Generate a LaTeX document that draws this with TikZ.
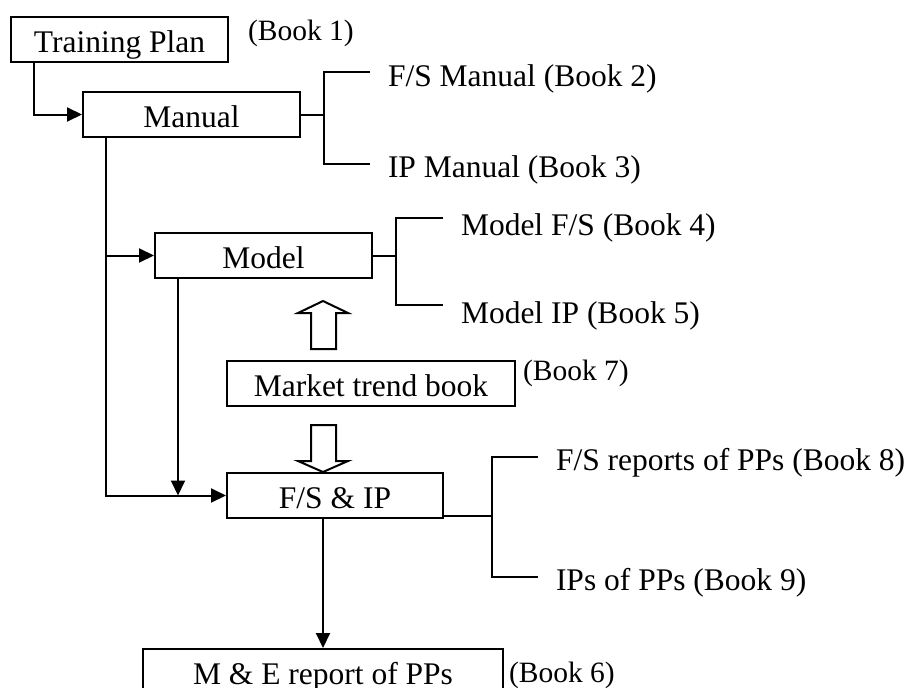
\documentclass[tikz,border=0pt]{standalone}
\usepackage{fontspec}
\setmainfont{Liberation Serif}
\usetikzlibrary{arrows.meta}
\begin{document}
\begin{tikzpicture}[x=1pt,y=-1pt,
  line width=2pt,
  box/.style={draw, line width=2pt, inner sep=0pt, minimum height=45pt,
    text height=25.6pt, text depth=0pt, font=\fontsize{31.5}{36}\selectfont},
  lbl/.style={anchor=base west, inner sep=0pt, font=\fontsize{31.5}{36}\selectfont},
  booklbl/.style={anchor=base west, inner sep=0pt, font=\fontsize{29.5}{34}\selectfont},
  conn/.style={line width=2pt},
  arr/.style={conn, -{Triangle[length=15pt,width=14pt]}},
  hollow/.style={draw, line width=2pt, fill=white, line join=miter}]
\useasboundingbox (0,0) rectangle (911,688);
\clip (0,0) rectangle (911,688);

% boxes
\node[box, minimum width=217pt] (tp)   at (119.5,39.5)  {Training Plan};
\node[box, minimum width=217pt] (man)  at (191.5,114.5) {Manual};
\node[box, minimum width=217pt] (mod)  at (263.5,255.5) {Model};
\node[box, minimum width=288pt] (mkt)  at (371,383.5)   {Market trend book};
\node[box, minimum width=216pt] (fsip) at (335,495.5)   {F/S \& IP};
\node[box, minimum width=360pt] (me)   at (323,671.5)   {M \& E report of PPs};

% book labels
\node[booklbl] (b1) at (247,40)  {(Book 1)};
\node[lbl]     (b2) at (387,86)  {F/S Manual (Book 2)};
\node[lbl]     (b3) at (387,177) {IP Manual (Book 3)};
\node[lbl]     (b4) at (460,235) {Model F/S (Book 4)};
\node[lbl]     (b5) at (460,323) {Model IP (Book 5)};
\node[booklbl] (b7) at (522,380) {(Book 7)};
\node[lbl]     (b8) at (555,470) {F/S reports of PPs (Book 8)};
\node[lbl]     (b9) at (555,590) {IPs of PPs (Book 9)};
\node[booklbl] (b6) at (508,682) {(Book 6)};

% flow arrows
\draw[arr] ([xshift=24pt]tp.south west) |- (man.west);
\draw[arr] ([xshift=24pt]man.south west) |- (fsip.west);
\draw[arr] ([xshift=24pt]man.south west |- mod.west) -- (mod.west);
\draw[arr] ([xshift=24pt]mod.south west) -- ([xshift=24pt]mod.south west |- fsip.west);
\draw[arr] (fsip.south -| me.north) -- (me.north);

% brackets to the books
\coordinate (m2) at (370,72);  \coordinate (m3) at (370,164);
\draw[conn] (man.east) -- ++(23,0) coordinate (mj);
\draw[conn] (m2) -| (mj) |- (m3);

\coordinate (d4) at (443,218); \coordinate (d5) at (443,305);
\draw[conn] (mod.east) -- ++(23,0) coordinate (dj);
\draw[conn] (d4) -| (dj) |- (d5);

\coordinate (f8) at (538,457); \coordinate (f9) at (538,577);
\draw[conn] ([yshift=3pt]fsip.south east) -- ++(48,0) coordinate (fj);
\draw[conn] (f8) -| (fj) |- (f9);

% hollow block arrows from the market trend book
\draw[hollow] (311,349) -- (311,313) -- (298,313) -- (323,301) -- (348,313)
  -- (336,313) -- (336,349) -- cycle;
\draw[hollow] (311,425) -- (311,461) -- (298,461) -- (323,472) -- (348,461)
  -- (336,461) -- (336,425) -- cycle;
\end{tikzpicture}
\end{document}
